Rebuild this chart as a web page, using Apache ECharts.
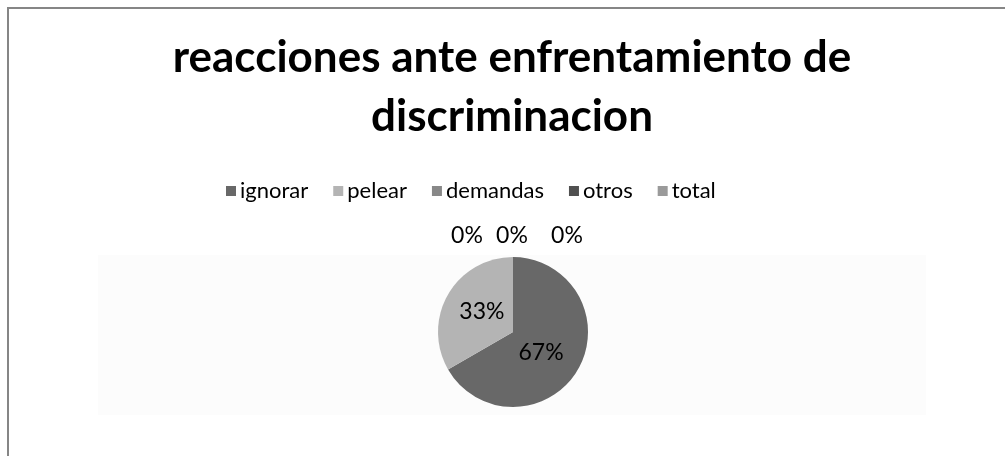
<!DOCTYPE html>
<html>
<head>
<meta charset="utf-8">
<script src="https://cdn.jsdelivr.net/npm/echarts@6/dist/echarts.min.js"></script>
<style>
  html, body { margin: 0; padding: 0; background: #fff; }
  #chart { width: 1005px; height: 456px; }
</style>
</head>
<body>
<div id="chart"></div>
<script>
const categories = ['ignorar', 'pelear', 'demandas', 'otros', 'total']
const values = [2, 1, 0, 0, 0]
const colors = ['#686868', '#b4b4b4', '#888888', '#505050', '#9a9a9a']

// horizontal nudges of the labels (inside ones, then the stacked 0% ones)
const labelShift = [-7, 4, -41, 4, 59]

const chart = echarts.init(document.getElementById('chart'))

const option = {
  backgroundColor: '#fff',
  color: colors,
  title: {
    text: 'reacciones ante enfrentamiento de\ndiscriminacion',
    left: 507,
    top: 23,
    textAlign: 'center',
    textStyle: {
      fontFamily: 'Lato',
      fontWeight: 'bold',
      fontSize: 44,
      lineHeight: 59,
      color: '#000'
    }
  },
  legend: {
    left: 221,
    top: 175,
    itemWidth: 10,
    itemHeight: 10,
    itemGap: 25,
    icon: 'rect',
    textStyle: { fontFamily: 'Lato', fontSize: 22, color: '#000', padding: [0, 0, 0, -1] },
    data: categories
  },
  graphic: [
    // outer frame (only top and left edges visible)
    { type: 'rect', shape: { x: 8, y: 8, width: 1200, height: 600 }, style: { fill: 'none', stroke: '#868686', lineWidth: 2 }, z: -10 },
    // plot area shading
    { type: 'rect', shape: { x: 98, y: 255, width: 828, height: 160 }, style: { fill: '#fcfcfc' }, z: -9 }
  ],
  series: [
    {
      type: 'pie',
      center: [513, 332],
      radius: 75,
      startAngle: 90,
      clockwise: true,
      avoidLabelOverlap: false,
      animation: false,
      label: {
        position: 'inside',
        formatter: p => Math.round(p.percent) + '%',
        fontFamily: 'Lato',
        fontSize: 23,
        color: '#000'
      },
      labelLayout: params => {
        const dx = labelShift[params.dataIndex]
        if (values[params.dataIndex] === 0) return { align: 'center', dx: dx }
        return { dx: dx }
      },
      data: categories.map((name, i) => {
        const item = { name: name, value: values[i] }
        if (values[i] === 0) {
          item.label = { position: 'outside' }
          item.labelLine = { show: false, length: 21, length2: 0 }
        }
        return item
      })
    }
  ]
}

chart.setOption(option)
</script>
</body>
</html>
